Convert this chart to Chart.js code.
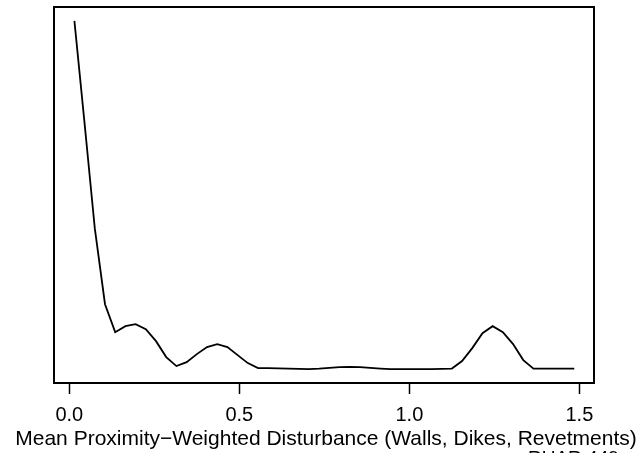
<!DOCTYPE html>
<html>
<head>
<meta charset="utf-8">
<script src="https://cdn.jsdelivr.net/npm/chart.js@4"></script>
<style>
  html, body { margin: 0; padding: 0; background: #fff; }
  #box { width: 643px; height: 453px; }
</style>
</head>
<body>
<div id="box"><canvas id="grafico"></canvas></div>
<script>
// ---- dados (densidade, unidades arbitrarias)
const xInicio = 0.015;
const xPasso = 0.03;
const densidade = [
    3.49, 2.46, 1.41, 0.65, 0.37, 0.43, 0.45, 0.40, 0.28, 0.12,
    0.03, 0.07, 0.15, 0.22, 0.25, 0.22, 0.14, 0.06, 0.01, 0.01,
    0.007, 0.005, 0.002, 0.0, 0.004, 0.012, 0.02, 0.023, 0.02, 0.012,
    0.005, 0.0, 0.0, 0.0, 0.0, 0.0, 0.002, 0.005, 0.08, 0.21,
    0.36, 0.43, 0.37, 0.25, 0.09, 0.005, 0.005, 0.005, 0.005, 0.005
];
const xTicks = [0, 0.5, 1.0, 1.5];
const tituloX = 'Mean Proximity\u2212Weighted Disturbance (Walls, Dikes, Revetments)';
const rodape = 'RUAR 449';

// pontos (x, y)
const pontos = densidade.map((v, i) => ({ x: xInicio + xPasso * i, y: v }));

const yMax = Math.max(...densidade);
const yMin = Math.min(...densidade);
const yExtra = (yMax - yMin) * 0.04;

const fonte = "'Liberation Sans', Arial, sans-serif";

// moldura em volta da area do grafico, titulo do eixo x e rodape (cortado embaixo)
// o titulo vai aqui porque o Chart.js espreme o titulo do eixo na largura do eixo
const molduraPlugin = {
    id: 'moldura',
    afterDraw(chart) {
        const a = chart.chartArea;
        const ctx = chart.ctx;
        ctx.save();
        ctx.strokeStyle = '#000';
        ctx.lineWidth = 2;
        ctx.strokeRect(a.left, a.top, a.right - a.left, a.bottom - a.top);
        ctx.fillStyle = '#000';
        ctx.font = '21px ' + fonte;
        ctx.textAlign = 'center';
        ctx.textBaseline = 'alphabetic';
        ctx.fillText(tituloX, (a.left + a.right) / 2 + 2, 444.5);
        ctx.font = '19px ' + fonte;
        ctx.textAlign = 'left';
        ctx.fillText(rodape, 528, 464);
        ctx.restore();
    }
};

const ctx = document.getElementById('grafico').getContext('2d');

let grafico = new Chart(ctx, {
    type: 'line',
    data: {
        datasets: [{
            data: pontos,
            borderColor: '#000',
            borderWidth: 1.8,
            pointRadius: 0,
            fill: false,
            tension: 0
        }]
    },
    options: {
        responsive: true,
        maintainAspectRatio: false,
        animation: false,
        layout: { padding: { left: 54, right: 49, top: 7, bottom: 0 } },
        plugins: {
            legend: { display: false },
            tooltip: { enabled: false }
        },
        scales: {
            x: {
                type: 'linear',
                min: -0.045,
                max: 1.543,
                afterBuildTicks: (eixo) => { eixo.ticks = xTicks.map(v => ({ value: v })); },
                afterFit: (eixo) => { eixo.height = 70; },
                grid: {
                    drawOnChartArea: false,
                    drawTicks: true,
                    tickLength: 11,
                    tickColor: '#000',
                    tickWidth: 1.5
                },
                border: { display: false },
                ticks: {
                    color: '#000',
                    padding: 9,
                    maxRotation: 0,
                    font: { family: fonte, size: 20 },
                    callback: (v) => v.toFixed(1)
                },
                title: { display: false }
            },
            y: {
                display: false,
                min: yMin - yExtra,
                max: yMax + yExtra
            }
        }
    },
    plugins: [molduraPlugin]
});
</script>
</body>
</html>
